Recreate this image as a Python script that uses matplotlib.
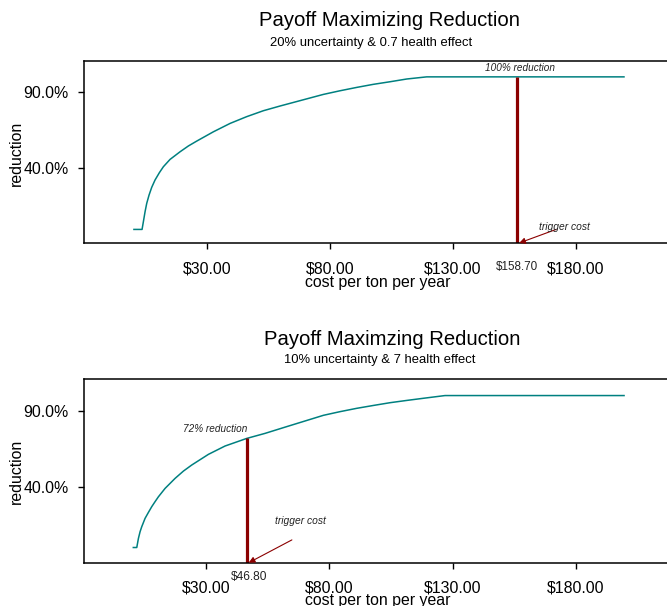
import matplotlib
matplotlib.use("Agg")
import matplotlib.pyplot as plt

plt.rcParams['font.family'] = ['Liberation Sans', 'DejaVu Sans']

# ---- data ----
top_cost = [0.4, 3.7, 4.24, 4.92, 5.6, 6.54, 7.63, 8.98, 10.74, 12.37, 15.08, 19.15,
            22.53, 25.92, 32.7, 39.5, 46.2, 53.0, 59.8, 77.4, 84.2,
            91.0, 97.7, 104.5, 111.3, 119.4, 199.6]
top_reduction = [0, 0, 5.1, 11.6, 17.1, 22.5, 27.6, 32.4, 37.2, 41.1, 45.9, 50.9,
                 54.7, 57.9, 64.0, 69.5, 73.9, 77.8, 80.9, 88.5, 90.9,
                 93.1, 95.1, 96.8, 98.6, 100, 100]

bot_cost = [0.5, 1.9, 2.57, 3.24, 3.92, 5.27, 6.62, 7.98, 9.33, 10.68, 13.38, 17.44,
            20.82, 24.2, 30.95, 37.71, 46.5, 53.9, 62.0, 77.6, 84.3, 91.1, 97.9,
            104.6, 111.4, 118.1, 126.9, 199.5]
bot_reduction = [0, 0, 6.0, 10.4, 13.7, 19.2, 23.1, 26.9, 30.2, 33.4, 38.9, 45.5,
                 50.3, 54.3, 61.3, 66.8, 71.8, 75.1, 79.2, 87.0, 89.4, 91.6, 93.5,
                 95.3, 96.8, 98.2, 100, 100]

top_trigger_x = 156.0        # drawn position of the trigger line
top_trigger_label = "$158.70"
top_trigger_red = 100
bot_trigger_x = 46.8
bot_trigger_label = "$46.80"
bot_trigger_red = 72

x_ticks = [30, 80, 130, 180]
x_ticklabels = ["$30.00", "$80.00", "$130.00", "$180.00"]
y_ticks = [40, 90]
y_ticklabels = ["40.0%", "90.0%"]

titles = ["Payoff Maximizing Reduction", "Payoff Maximzing Reduction"]
subtitles = ["20% uncertainty & 0.7 health effect", "10% uncertainty & 7 health effect"]

W, H = 667, 606
fig = plt.figure(figsize=(W / 100, H / 100), dpi=100)

teal = "#008080"
dred = "#8B0000"
txt = "#222222"


def px_axes(left, top, bottom, right):
    return [left / W, 1 - bottom / H, (right - left) / W, (bottom - top) / H]


def style_axes(ax, xlim, ylim):
    ax.set_xlim(*xlim)
    ax.set_ylim(*ylim)
    ax.spines['right'].set_visible(False)
    for s in ['top', 'left', 'bottom']:
        ax.spines[s].set_linewidth(1.1)
    ax.set_xticks(x_ticks)
    ax.set_xticklabels(x_ticklabels, fontsize=11.4)
    ax.set_yticks(y_ticks)
    ax.set_yticklabels(y_ticklabels, fontsize=11.4)
    ax.tick_params(axis='both', direction='out', length=4, width=1.0)
    ax.tick_params(axis='x', pad=9)
    ax.tick_params(axis='y', pad=7)
    ax.set_ylabel("reduction", fontsize=11.4)
    ax.set_xlabel("cost per ton per year", fontsize=11.4)


# ---- top panel ----
ax1 = fig.add_axes(px_axes(84, 61, 243, 700))
style_axes(ax1, (-19.9, 230.5), (-8.9, 110.4))
ax1.plot(top_cost, top_reduction, color=teal, lw=1.1, solid_joinstyle='round')
ax1.plot([top_trigger_x, top_trigger_x], [ax1.get_ylim()[0], top_trigger_red],
         color=dred, lw=2.3, solid_capstyle='butt')
ax1.text(top_trigger_x + 1.5, top_trigger_red + 2.5, "100% reduction", fontsize=7.2,
         style='italic', ha='center', va='bottom', color=txt)
ax1.annotate("", xy=(top_trigger_x + 1, -8.9), xytext=(top_trigger_x + 16, 0),
             arrowprops=dict(arrowstyle='-|>', color=dred, lw=0.8,
                             mutation_scale=9, shrinkA=0, shrinkB=0))
ax1.text(top_trigger_x + 19.5, 1.5, "trigger cost", fontsize=7.4, style='italic',
         ha='center', va='center', color=txt)
ax1.text(top_trigger_x, -24.5, top_trigger_label, fontsize=8.4, ha='center',
         va='center', color=txt)
ax1.xaxis.set_label_coords(377.8 / W, (H - 275) / H, transform=fig.transFigure)
ax1.yaxis.set_label_coords(24 / W, (H - 153) / H, transform=fig.transFigure)

# ---- bottom panel ----
ax2 = fig.add_axes(px_axes(84, 379.3, 562.7, 700))
style_axes(ax2, (-19.5, 230.3), (-10.0, 110.7))
ax2.plot(bot_cost, bot_reduction, color=teal, lw=1.1, solid_joinstyle='round')
ax2.plot([bot_trigger_x, bot_trigger_x], [ax2.get_ylim()[0], bot_trigger_red],
         color=dred, lw=2.3, solid_capstyle='butt')
ax2.text(bot_trigger_x - 13, bot_trigger_red + 2.5, "72% reduction", fontsize=7.2,
         style='italic', ha='center', va='bottom', color=txt)
ax2.annotate("", xy=(bot_trigger_x + 0.5, -10.0), xytext=(bot_trigger_x + 18, 5),
             arrowprops=dict(arrowstyle='-|>', color=dred, lw=0.8,
                             mutation_scale=9, shrinkA=0, shrinkB=0))
ax2.text(bot_trigger_x + 21.5, 17.5, "trigger cost", fontsize=7.4, style='italic',
         ha='center', va='center', color=txt)
ax2.text(bot_trigger_x + 0.8, -19.5, bot_trigger_label, fontsize=8.6, ha='center',
         va='center', color=txt)
ax2.xaxis.set_label_coords(377.8 / W, (H - 592.5) / H, transform=fig.transFigure)
ax2.yaxis.set_label_coords(24 / W, (H - 471.5) / H, transform=fig.transFigure)

# ---- titles ----
fig.text(389.5 / W, 1 - 26 / H, titles[0], fontsize=14.6, ha='center', va='baseline')
fig.text(371.3 / W, 1 - 46 / H, subtitles[0], fontsize=9.4, ha='center', va='baseline')
fig.text(392 / W, 1 - 345 / H, titles[1], fontsize=14.6, ha='center', va='baseline')
fig.text(380 / W, 1 - 363.3 / H, subtitles[1], fontsize=9.4, ha='center', va='baseline')

fig.savefig("out.png", dpi=100)
